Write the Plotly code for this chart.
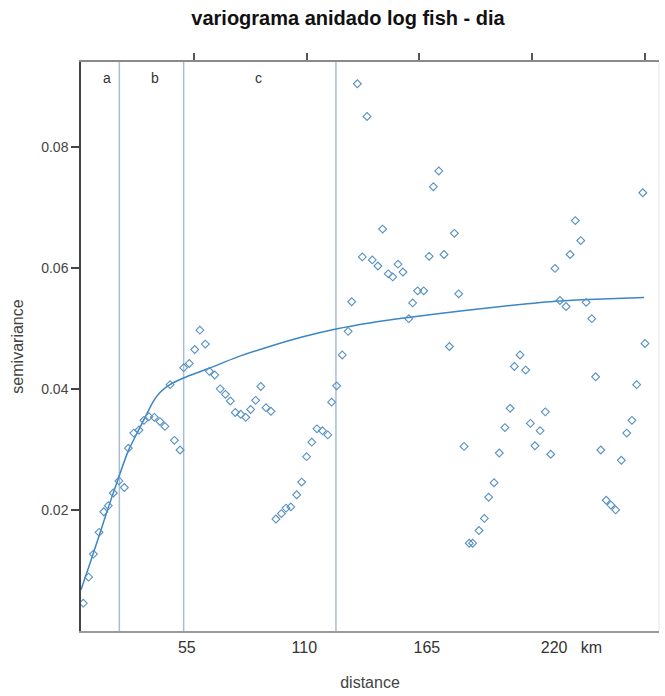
import plotly.graph_objects as go

# Empirical semivariogram (distance lag, semivariance)
distance = [
    122.5, 126.8, 133.7, 158.6, 156.2, 165.5, 249.0, 219.1, 221.5, 124.7,
    129.1, 131.6, 140.5, 136.2, 138.2, 142.7, 154.3, 160.9, 149.2, 151.9,
    147.0, 167.4, 120.0, 145.3, 118.4, 115.8, 113.3, 111.1, 163.3, 210.1,
    216.8, 212.3, 215.0, 223.9, 226.4, 250.0, 194.6, 192.1, 197.1, 228.1,
    246.3, 190.2, 205.8, 187.9, 199.2, 203.5, 244.2, 241.9, 201.2, 169.8,
    230.4, 185.4, 208.2, 239.5, 183.1, 180.7, 178.8, 176.4, 172.1, 173.6,
    232.8, 234.9, 237.0, 52.7, 50.4, 55.1, 45.5, 48.0, 39.5, 56.9,
    59.3, 61.7, 64.0, 66.2, 79.7, 77.4, 68.4, 70.8, 73.0, 75.2,
    82.0, 84.2, 30.1, 32.5, 35.0, 37.2, 27.9, 25.7, 23.4, 41.4,
    43.9, 102.3, 104.6, 107.0, 109.4, 21.0, 16.8, 19.2, 14.3, 12.1,
    10.1, 8.0, 5.5, 3.4, 1.0, 100.0, 97.8, 95.6, 93.0, 90.9,
    88.8, 86.4,
]
semivariance = [
    0.0904, 0.0850, 0.0664, 0.0760, 0.0734, 0.0657, 0.0724, 0.0678, 0.0645, 0.0618,
    0.0613, 0.0603, 0.0606, 0.0590, 0.0585, 0.0593, 0.0619, 0.0622, 0.0562, 0.0562,
    0.0542, 0.0557, 0.0544, 0.0516, 0.0495, 0.0456, 0.0405, 0.0378, 0.0470, 0.0599,
    0.0622, 0.0546, 0.0536, 0.0543, 0.0516, 0.0475, 0.0456, 0.0437, 0.0431, 0.0420,
    0.0407, 0.0368, 0.0362, 0.0336, 0.0343, 0.0331, 0.0348, 0.0327, 0.0306, 0.0305,
    0.0299, 0.0294, 0.0292, 0.0282, 0.0245, 0.0221, 0.0186, 0.0166, 0.0145, 0.0145,
    0.0216, 0.0208, 0.0200, 0.0497, 0.0465, 0.0474, 0.0435, 0.0442, 0.0407, 0.0429,
    0.0423, 0.0400, 0.0391, 0.0380, 0.0404, 0.0381, 0.0361, 0.0358, 0.0353, 0.0366,
    0.0369, 0.0363, 0.0354, 0.0353, 0.0346, 0.0338, 0.0348, 0.0332, 0.0327, 0.0315,
    0.0299, 0.0312, 0.0334, 0.0331, 0.0324, 0.0302, 0.0248, 0.0237, 0.0228, 0.0207,
    0.0197, 0.0163, 0.0127, 0.0089, 0.0046, 0.0288, 0.0246, 0.0225, 0.0205, 0.0203,
    0.0194, 0.0185,
]

# Fitted nested model
model_distance = [0, 4, 8, 12, 16.8, 21, 25.7, 28, 32, 35, 39.4, 45.4, 56.8, 68.9,
                  83.6, 98.4, 113, 127.9, 145, 169.2, 191.3, 212, 228, 249.6]
model_gamma = [0.0068, 0.0112, 0.0157, 0.0203, 0.0255, 0.0298, 0.0333, 0.0350,
               0.0379, 0.0394, 0.0407, 0.0418, 0.0434, 0.0452, 0.0470, 0.0486,
               0.0499, 0.0509, 0.0518, 0.0529, 0.0538, 0.0545, 0.0548, 0.0551]

# Structure ranges and their labels
range_limits = [17.0, 45.5, 113.0]
range_names = ["a", "b", "c"]
range_label_x = [11.5, 32.9, 78.8]
range_label_y = 0.0914

# Axis ticks
bottom_tick_pos = [46.9, 99.0, 153.3, 217.4]
bottom_tick_text = ["55", "110", "165", "220\u00a0\u00a0\u00a0km"]
top_tick_pos = [50, 100, 150, 200, 250]
y_ticks = [0.02, 0.04, 0.06, 0.08]

X_RANGE = [0, 256.2]
Y_RANGE = [0, 0.0940]
FONT = "Liberation Sans, Arial, sans-serif"
POINT_BLUE = "#5590c4"
LINE_BLUE = "#3b86c4"
RANGE_LINE = "#a9bcd6"

fig = go.Figure()

fig.add_trace(go.Scatter(
    x=model_distance, y=model_gamma, mode="lines",
    line=dict(color=LINE_BLUE, width=1.5, shape="spline", smoothing=0.6),
    hoverinfo="skip", showlegend=False,
))
fig.add_trace(go.Scatter(
    x=distance, y=semivariance, mode="markers",
    marker=dict(symbol="diamond-open", size=6, color=POINT_BLUE,
                line=dict(width=1.1, color=POINT_BLUE)),
    showlegend=False,
))
# anchor trace for the top tick axis
fig.add_trace(go.Scatter(
    x=[X_RANGE[0]], y=[Y_RANGE[0]], xaxis="x2", mode="markers",
    marker=dict(opacity=0), hoverinfo="skip", showlegend=False,
))

for xv in range_limits:
    fig.add_shape(type="line", x0=xv, x1=xv, y0=0, y1=1, xref="x", yref="paper",
                  line=dict(color=RANGE_LINE, width=1.5), layer="below")

for name, xv in zip(range_names, range_label_x):
    fig.add_annotation(x=xv, y=range_label_y, text=name, showarrow=False,
                       font=dict(family=FONT, size=14, color="#333333"))

# faint right border
fig.add_shape(type="line", x0=1, x1=1, y0=0, y1=1, xref="paper", yref="paper",
              line=dict(color="#e4e4e4", width=1))

fig.update_layout(
    width=665, height=696,
    margin=dict(l=81, r=6, t=62, b=65),
    paper_bgcolor="white", plot_bgcolor="white",
    font=dict(family=FONT, color="#444444"),
    title=dict(text="<b>variograma anidado log fish - dia</b>",
               x=348 / 665, xanchor="center", y=1 - 18 / 696, yanchor="middle",
               font=dict(family=FONT, size=20, color="#111111")),
    xaxis=dict(
        range=X_RANGE, showgrid=False, zeroline=False,
        showline=True, linecolor="#9a9a9a", linewidth=1.5,
        tickvals=bottom_tick_pos, ticktext=bottom_tick_text,
        ticks="outside", ticklen=1, tickcolor="rgba(0,0,0,0)",
        tickfont=dict(family=FONT, size=16, color="#333333"),
        title=dict(text="distance", standoff=22,
                   font=dict(family=FONT, size=16, color="#444444")),
    ),
    xaxis2=dict(
        range=X_RANGE, overlaying="x", side="top", anchor="y",
        showgrid=False, zeroline=False,
        showline=True, linecolor="#8a8a8a", linewidth=1.5,
        tickvals=top_tick_pos, showticklabels=False,
        ticks="outside", ticklen=7, tickwidth=1.5, tickcolor="#555555",
    ),
    yaxis=dict(
        range=Y_RANGE, showgrid=False, zeroline=False,
        showline=True, linecolor="#444444", linewidth=1.5,
        tickvals=y_ticks, ticktext=[f"{v:.2f}" for v in y_ticks],
        ticks="outside", ticklen=8, tickwidth=1.5, tickcolor="#444444",
        tickfont=dict(family=FONT, size=14, color="#444444"),
        title=dict(text="semivariance", standoff=14,
                   font=dict(family=FONT, size=16, color="#444444")),
    ),
)

fig.write_html("out.html")
